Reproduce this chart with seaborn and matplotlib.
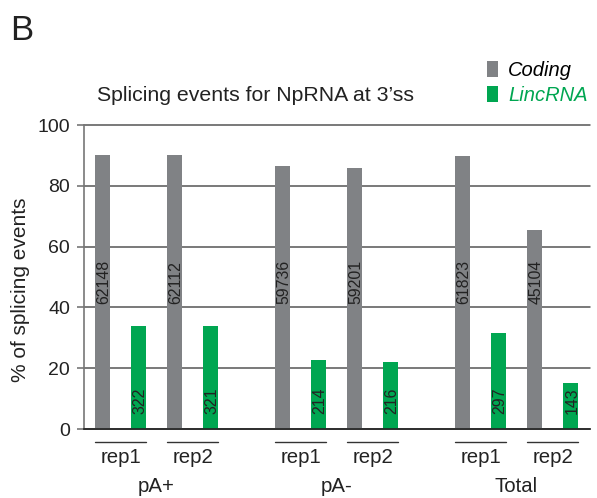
import numpy as np
import pandas as pd
import matplotlib
matplotlib.use("Agg")
import matplotlib.pyplot as plt
import matplotlib.transforms as mtransforms
from matplotlib.patches import Patch
import seaborn as sns

# ---- data ----
groups = ["pA+", "pA-", "Total"]
reps = ["rep1", "rep2"]
types = ["Coding", "LincRNA"]
coding_pct = [90.2, 90.2, 86.6, 85.9, 89.8, 65.5]
linc_pct = [33.9, 33.9, 22.7, 22.0, 31.6, 15.1]
coding_n = ["62148", "62112", "59736", "59201", "61823", "45104"]
linc_n = ["322", "321", "214", "216", "297", "143"]

colors = {"Coding": "#808285", "LincRNA": "#00A651"}

sns.set_theme(style="white")
plt.rcParams["font.family"] = ["Liberation Sans", "DejaVu Sans"]

rows = []
k = 0
for gi, g in enumerate(groups):
    for ri, r in enumerate(reps):
        for ti, t in enumerate(types):
            val = coding_pct[k] if t == "Coding" else linc_pct[k]
            lab = coding_n[k] if t == "Coding" else linc_n[k]
            rows.append(dict(group=g, rep=r, type=t, pct=val, n=lab,
                             pos=gi * 5 + ri * 2 + ti))
        k += 1
df = pd.DataFrame(rows)

fig = plt.figure(figsize=(5.97, 4.98), dpi=100)
ax = fig.add_axes([84 / 597, 1 - 429 / 498, (590 - 84) / 597, (429 - 125) / 498])

sns.barplot(data=df, x="pos", y="pct", hue="type", palette=colors,
            native_scale=True, dodge=False, width=0.42, errorbar=None,
            legend=False, ax=ax, saturation=1, linewidth=0)

ax.set_xlim(-0.514, 13.54)
ax.set_ylim(0, 100)
ax.set_yticks([0, 20, 40, 60, 80, 100])
ax.set_xticks([])
ax.set_xlabel("")
ax.set_ylabel("")
ax.tick_params(axis="y", left=True, length=5, width=1.2, color="#777777",
               labelsize=14, pad=5, labelcolor="#222222")
ax.yaxis.grid(True, color="#555555", linewidth=1.1)
for gl in ax.get_ygridlines():
    gl.set_clip_on(False)
ax.set_axisbelow(True)
for s in ["top", "right"]:
    ax.spines[s].set_visible(False)
ax.spines["left"].set_color("#777777")
ax.spines["left"].set_linewidth(1.2)
ax.spines["bottom"].set_color("#222222")
ax.spines["bottom"].set_linewidth(1.2)

# value labels inside bars
for _, row in df.iterrows():
    ybase = 41 if row["type"] == "Coding" else 5
    ax.text(row["pos"] + 0.04, ybase, row["n"], rotation=90, ha="center",
            va="bottom", fontsize=11.4, color="#222222")

# rep underlines and labels
trans = mtransforms.blended_transform_factory(ax.transData, ax.transAxes)
for gi, g in enumerate(groups):
    for ri, r in enumerate(reps):
        x0 = gi * 5 + ri * 2
        ax.plot([x0 - 0.21, x0 + 1.21], [-0.043, -0.043], transform=trans,
                color="#333333", linewidth=1.0, clip_on=False)
        ax.text(x0 + 0.5, -0.095, r, transform=trans, ha="center", va="center",
                fontsize=14.7, color="#222222")
    ax.text(gi * 5 + 1.5, -0.19, g, transform=trans, ha="center", va="center",
            fontsize=14.7, color="#222222")

# title, panel letter, y label
fig.text(97 / 597, 1 - 95 / 498, "Splicing events for NpRNA at 3\u2019ss",
         ha="left", va="center", fontsize=15.3, color="#222222")
fig.text(10 / 597, 1 - 31 / 498, "B", ha="left", va="center", fontsize=25,
         color="#222222")
fig.text(21 / 597, 1 - 290 / 498, "% of splicing events", rotation=90,
         ha="center", va="center", fontsize=15, color="#222222")

handles = [Patch(facecolor=colors[t], edgecolor="none", label=t) for t in types]
leg = fig.legend(handles=handles, loc="upper left",
                 bbox_to_anchor=(487 / 597, 1 - 61 / 498), frameon=False,
                 borderpad=0, borderaxespad=0, handlelength=0.55,
                 handleheight=0.85, handletextpad=0.5, labelspacing=0.3,
                 prop={"size": 14.5, "style": "italic"})
for txt, t in zip(leg.get_texts(), types):
    txt.set_color("#000000" if t == "Coding" else colors[t])

fig.savefig("out.png", dpi=100)
